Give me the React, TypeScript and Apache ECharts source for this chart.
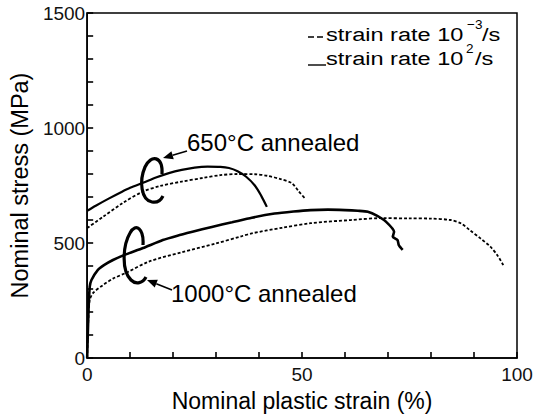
import React, { useEffect, useRef } from "react";
import * as echarts from "echarts";

// ---- data ----
const strain650Fast = [0, 2, 5, 8, 10, 13, 16, 19, 22, 25, 28, 31, 33, 35, 37, 39, 40.5, 41.8];
const stress650Fast = [640, 662, 693, 722, 740, 762, 785, 804, 818, 828, 832, 831, 826, 812, 788, 750, 705, 657];

const strain650Slow = [0, 3.7, 8.3, 12.9, 17, 22, 27, 31, 35, 39, 42, 45, 47.6, 49.2, 50.6];
const stress650Slow = [565, 614, 674, 723, 748, 767, 783, 795, 800, 799, 792, 778, 760, 725, 695];

const strain1000Fast = [0, 0.3, 0.6, 1, 2.5, 4, 6, 8, 9.8, 13, 17.6, 21, 24.5, 29, 33.7, 38.3, 43.6, 48, 52, 56, 60, 63, 65.3, 67.5, 69.5, 71.4, 71.1, 72.2, 72.5, 73.4];
const stress1000Fast = [0, 200, 310, 339, 383, 405, 426, 443, 456, 478, 513, 532, 549, 570, 590, 610, 628, 637, 643, 645, 643, 640, 636, 618, 593, 549, 527, 513, 491, 470];

const strain1000Slow = [0, 0.3, 0.6, 1.5, 3.7, 6, 9, 14.5, 22, 29.8, 36, 38.3, 45.3, 52, 61.4, 68.4, 75, 80, 84.5, 87, 89, 91.5, 93.8, 95.5, 96.8];
const stress1000Slow = [0, 180, 252, 285, 317, 345, 370, 420, 460, 497, 530, 542, 566, 586, 600, 608, 607, 606, 600, 585, 556, 520, 484, 445, 404];

const yTickLabels = [0, 500, 1000, 1500];

const legendLabels = ["strain rate 10", "strain rate 10"];
const legendExponents = ["\u22123", "2"];
const annotationLabels = ["650\u00b0C annealed", "1000\u00b0C annealed"];

const FONT = "'Liberation Sans', Arial, Helvetica, sans-serif";

echarts.graphic.registerShape(
  "loop650",
  echarts.graphic.extendPath(
    "M 162 174 C 163 156, 151 154, 145 167 C 139 181, 141 200, 152 202 C 157 203, 161 200, 163 196",
    {}
  )
);
echarts.graphic.registerShape(
  "loop1000",
  echarts.graphic.extendPath(
    "M 143 245 C 144 229, 136 222, 130 233 C 123 245, 121 270, 131 280 C 136 285, 143 283, 146 277",
    {}
  )
);

function zip(xs: number[], ys: number[]) {
  return xs.map((x, i) => [x, ys[i]]);
}

function arrow(tail: number[], tip: number[]) {
  const dx = tip[0] - tail[0];
  const dy = tip[1] - tail[1];
  const len = Math.hypot(dx, dy);
  const ux = dx / len;
  const uy = dy / len;
  const hl = 10;
  const hw = 4.2;
  const bx = tip[0] - hl * ux;
  const by = tip[1] - hl * uy;
  return [
    {
      type: "line",
      shape: { x1: tail[0], y1: tail[1], x2: bx, y2: by },
      style: { stroke: "#000", lineWidth: 1.6 },
    },
    {
      type: "polygon",
      shape: {
        points: [
          [tip[0], tip[1]],
          [bx - hw * uy, by + hw * ux],
          [bx + hw * uy, by - hw * ux],
        ],
      },
      style: { fill: "#000" },
    },
  ];
}

function txt(text: string, x: number, y: number, fontSize: number, scaleX = 1, align = "left") {
  return {
    type: "text",
    x,
    y,
    scaleX,
    style: {
      text,
      fontSize,
      fontFamily: FONT,
      fill: "#000",
      align,
      verticalAlign: "middle",
      textAlign: align,
      textVerticalAlign: "middle",
    },
  };
}

export default function App() {
  const ref = useRef<HTMLDivElement>(null);

  useEffect(() => {
    if (!ref.current) return;
    const chart = echarts.init(ref.current, null, { renderer: "svg" });
    const solid = { color: "#000", width: 2.2, type: "solid" };
    const dashed = { color: "#000", width: 1.8, type: [3, 2] };
    const tick = { show: true, inside: true, length: 6, lineStyle: { color: "#000", width: 1.6 } };
    const option = {
      animation: false,
      backgroundColor: "#fff",
      grid: {
        left: 84,
        right: 23,
        top: 13,
        bottom: 61,
        show: true,
        borderColor: "#000",
        borderWidth: 1.5,
      },
      xAxis: {
        type: "value",
        min: 0,
        max: 100,
        interval: 50,
        name: "Nominal plastic strain (%)",
        nameLocation: "middle",
        nameGap: 31,
        nameTextStyle: { fontSize: 23, fontFamily: FONT, color: "#000" },
        axisLine: { show: true, lineStyle: { color: "#000", width: 1.5 } },
        axisTick: tick,
        minorTick: { show: true, splitNumber: 5, length: 6, lineStyle: { color: "#000", width: 1.6 } },
        axisLabel: {
          fontSize: 19,
          fontFamily: FONT,
          color: "#111",
          margin: 7,
        },
        splitLine: { show: false },
        minorSplitLine: { show: false },
      },
      yAxis: {
        type: "value",
        min: 0,
        max: 1500,
        interval: 100,
        name: "Nominal stress (MPa)",
        nameLocation: "middle",
        nameGap: 47,
        nameTextStyle: { fontSize: 23.5, fontFamily: FONT, color: "#000" },
        axisLine: { show: true, lineStyle: { color: "#000", width: 1.5 } },
        axisTick: tick,
        axisLabel: {
          fontSize: 19,
          fontFamily: FONT,
          color: "#111",
          margin: 2,
          formatter: (v: number) => (yTickLabels.includes(v) ? String(v) : ""),
        },
        splitLine: { show: false },
      },
      series: [
        {
          name: "650 fast",
          type: "line",
          data: zip(strain650Fast, stress650Fast),
          showSymbol: false,
          smooth: 0.3,
          lineStyle: solid,
        },
        {
          name: "650 slow",
          type: "line",
          data: zip(strain650Slow, stress650Slow),
          showSymbol: false,
          smooth: 0.3,
          lineStyle: dashed,
        },
        {
          name: "1000 fast",
          type: "line",
          data: zip(strain1000Fast, stress1000Fast),
          showSymbol: false,
          smooth: 0.2,
          lineStyle: { ...solid, width: 2.6 },
        },
        {
          name: "1000 slow",
          type: "line",
          data: zip(strain1000Slow, stress1000Slow),
          showSymbol: false,
          smooth: 0.3,
          lineStyle: dashed,
        },
      ],
      graphic: [
        // legend
        {
          type: "line",
          shape: { x1: 308, y1: 37, x2: 323, y2: 37 },
          style: { stroke: "#000", lineWidth: 1.4, lineDash: [6, 3] },
        },
        {
          type: "line",
          shape: { x1: 308, y1: 65, x2: 326, y2: 65 },
          style: { stroke: "#000", lineWidth: 1.4 },
        },
        txt(legendLabels[0], 326, 35, 19, 1.24),
        txt(legendExponents[0], 467, 24, 13.5, 1.0),
        txt("/s", 482, 35, 19, 1.24),
        txt(legendLabels[1], 326, 59, 19, 1.24),
        txt(legendExponents[1], 466, 48, 13.5, 1.0),
        txt("/s", 475, 59, 19, 1.24),
        // annotations
        txt(annotationLabels[0], 187, 142, 24),
        txt(annotationLabels[1], 171, 293, 24),
        ...arrow([187, 151], [163, 158]),
        ...arrow([172, 290], [147, 280]),
        {
          type: "loop650",
          x: 0,
          y: 0,
          style: { stroke: "#000", lineWidth: 3.2, fill: null },
        },
        {
          type: "loop1000",
          x: 0,
          y: 0,
          style: { stroke: "#000", lineWidth: 3.2, fill: null },
        },
      ],
    };
    chart.setOption(option as any);
    return () => chart.dispose();
  }, []);

  return (
    <div
      ref={ref}
      style={{ position: "absolute", left: 0, top: 0, width: 540, height: 419, background: "#fff" }}
    />
  );
}
